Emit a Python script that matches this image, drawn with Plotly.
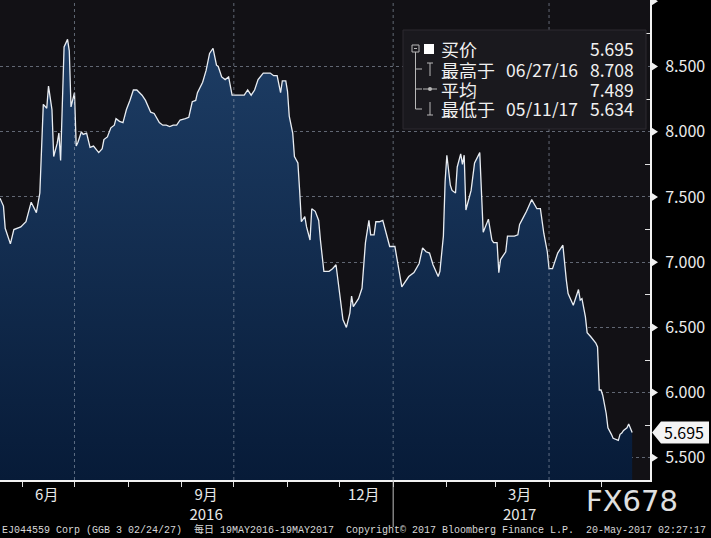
import plotly.graph_objects as go

# ---------------- data ----------------
dates = ["2016-05-19","2016-05-21","2016-05-22","2016-05-25","2016-05-27","2016-05-31","2016-06-03","2016-06-06","2016-06-09","2016-06-11",
"2016-06-13","2016-06-15","2016-06-16","2016-06-18","2016-06-19","2016-06-21","2016-06-22","2016-06-23","2016-06-25","2016-06-27",
"2016-06-28","2016-06-29","2016-07-01","2016-07-02","2016-07-03","2016-07-05","2016-07-06","2016-07-08","2016-07-10","2016-07-12",
"2016-07-15","2016-07-17","2016-07-18","2016-07-20","2016-07-22","2016-07-24","2016-07-25","2016-07-27","2016-07-29","2016-07-31",
"2016-08-02","2016-08-04","2016-08-06","2016-08-09","2016-08-11","2016-08-13","2016-08-14","2016-08-16","2016-08-19","2016-08-21",
"2016-08-23","2016-08-25","2016-08-27","2016-08-29","2016-08-31","2016-09-03","2016-09-05","2016-09-07","2016-09-09","2016-09-10",
"2016-09-13","2016-09-15","2016-09-17","2016-09-19","2016-09-21","2016-09-22","2016-09-24","2016-09-26","2016-09-28","2016-09-30",
"2016-10-02","2016-10-04","2016-10-07","2016-10-09","2016-10-11","2016-10-13","2016-10-15","2016-10-18","2016-10-22","2016-10-24",
"2016-10-26","2016-10-28","2016-10-29","2016-10-31","2016-11-01","2016-11-02","2016-11-04","2016-11-05","2016-11-07","2016-11-08",
"2016-11-09","2016-11-11","2016-11-12","2016-11-14","2016-11-15","2016-11-17","2016-11-19","2016-11-20","2016-11-22","2016-11-25",
"2016-11-27","2016-11-29","2016-12-01","2016-12-03","2016-12-05","2016-12-07","2016-12-08","2016-12-09","2016-12-12","2016-12-14",
"2016-12-16","2016-12-18","2016-12-19","2016-12-21","2016-12-22","2016-12-24","2016-12-26","2016-12-28","2016-12-30","2017-01-02",
"2017-01-04","2017-01-06","2017-01-10","2017-01-13","2017-01-16","2017-01-18","2017-01-20","2017-01-22","2017-01-24","2017-01-27",
"2017-01-28","2017-01-30","2017-01-31","2017-02-01","2017-02-03","2017-02-04","2017-02-06","2017-02-07","2017-02-09","2017-02-10",
"2017-02-11","2017-02-12","2017-02-14","2017-02-15","2017-02-17","2017-02-19","2017-02-20","2017-02-22","2017-02-24","2017-02-25",
"2017-02-27","2017-02-28","2017-03-02","2017-03-03","2017-03-04","2017-03-06","2017-03-07","2017-03-08","2017-03-10","2017-03-12",
"2017-03-14","2017-03-15","2017-03-17","2017-03-19","2017-03-22","2017-03-23","2017-03-25","2017-03-27","2017-03-29","2017-03-31",
"2017-04-01","2017-04-03","2017-04-04","2017-04-06","2017-04-07","2017-04-09","2017-04-11","2017-04-12","2017-04-15","2017-04-16",
"2017-04-18","2017-04-19","2017-04-20","2017-04-22","2017-04-23","2017-04-25","2017-04-28","2017-04-29","2017-04-30","2017-05-01",
"2017-05-02","2017-05-04","2017-05-05","2017-05-07","2017-05-08","2017-05-11","2017-05-12","2017-05-13","2017-05-14","2017-05-16",
"2017-05-17","2017-05-19"]

bid = [7.49,7.43,7.26,7.14,7.25,7.27,7.31,7.46,7.38,7.53,
8.21,8.18,8.35,8.17,7.81,7.91,7.99,7.78,8.65,8.708,
8.62,8.19,8.30,7.89,7.92,8.00,7.98,7.99,7.88,7.89,
7.84,7.87,7.94,7.96,8.03,8.05,8.10,8.08,8.07,8.17,
8.24,8.32,8.32,8.28,8.24,8.18,8.15,8.14,8.07,8.05,
8.05,8.04,8.05,8.05,8.09,8.10,8.11,8.23,8.24,8.30,
8.38,8.47,8.60,8.64,8.51,8.50,8.42,8.40,8.42,8.28,
8.28,8.28,8.28,8.32,8.28,8.32,8.40,8.45,8.45,8.43,
8.43,8.30,8.39,8.39,8.31,8.12,7.99,7.81,7.76,7.55,
7.31,7.35,7.27,7.17,7.41,7.39,7.32,7.17,6.93,6.93,
6.95,6.98,6.76,6.56,6.50,6.61,6.74,6.66,6.72,6.80,
7.15,7.32,7.21,7.21,7.31,7.31,7.32,7.22,7.12,7.12,
6.97,6.81,6.89,6.92,6.99,7.11,7.08,7.07,6.98,6.89,
6.93,7.20,7.62,7.82,7.59,7.55,7.53,7.73,7.83,7.75,
7.82,7.40,7.50,7.55,7.76,7.81,7.84,7.23,7.29,7.33,
7.17,7.15,7.15,6.92,7.02,7.06,7.08,7.20,7.20,7.20,
7.21,7.29,7.34,7.39,7.48,7.46,7.41,7.41,7.22,7.08,
6.95,6.95,6.99,7.07,7.09,7.13,6.86,6.76,6.67,6.71,
6.79,6.71,6.72,6.58,6.46,6.43,6.38,6.35,6.02,6.02,
5.98,5.84,5.73,5.68,5.65,5.634,5.68,5.69,5.71,5.73,
5.76,5.695]

if len(dates) != len(bid):
    raise SystemExit(f"length mismatch {len(dates)} vs {len(bid)}")

y_ticks = [5.5, 6.0, 6.5, 7.0, 7.5, 8.0, 8.5]
y_arrow_ticks = [5.5, 6.0, 6.5, 7.0, 7.5, 8.0, 8.5, 9.0]
y_minor = [5.75, 6.25, 6.75, 7.25, 7.75, 8.25, 8.75]
month_label_dates = ["2016-06-15", "2016-09-15", "2016-12-15", "2017-03-15"]
month_labels = ["6月", "9月<br>2016", "12月", "3月<br>2017"]
quarter_dates = ["2016-07-01", "2016-10-01", "2017-01-01", "2017-04-01"]
year_break = "2017-01-01"

legend_names = ["买价", "最高于", "平均", "最低于"]
legend_dates = ["", "06/27/16", "", "05/11/17"]
legend_values = ["5.695", "8.708", "7.489", "5.634"]
last_label = "5.695"

x_range = ["2016-05-19", "2017-05-29 07:00"]
y_range = [5.33, 9.01]

# ---------------- figure ----------------
W, H = 711, 538
ML, MR, MT, MB = 0, 61, 0, 58
PW, PH = W - ML - MR, H - MT - MB

def px(x):
    return (x - ML) / PW

def py(y):
    return 1 - (y - MT) / PH

fig = go.Figure()
fig.add_trace(go.Scatter(
    x=dates, y=bid, mode="lines",
    line=dict(color="#e9edf2", width=1.3),
    fill="tozeroy",
    fillgradient=dict(type="vertical", start=y_range[0], stop=8.8,
                      colorscale=[[0, "#071b38"], [1, "#1e3e66"]]),
    hoverinfo="skip", showlegend=False,
))

grid_col = "rgba(150,162,178,0.6)"
shapes = []
for d in quarter_dates:
    shapes.append(dict(type="line", xref="x", yref="paper", x0=d, x1=d, y0=0, y1=1,
                       line=dict(color=grid_col, width=1, dash="3px,3px"), layer="above"))
# year separator below axis
shapes.append(dict(type="line", xref="x", yref="paper", x0=year_break, x1=year_break,
                   y0=0, y1=py(527), line=dict(color="#bfbfbf", width=1)))
# triangles on right axis
for v in y_arrow_ticks:
    dy = 4.5 * (y_range[1] - y_range[0]) / PH
    shapes.append(dict(type="path", xref="paper", yref="y",
                       path=f"M {px(651)} {v-dy} L {px(658)} {v} L {px(651)} {v+dy} Z",
                       fillcolor="#f2f2f2", line=dict(width=0)))
# last price arrow tag
last_v = bid[-1]
dy = 11 * (y_range[1] - y_range[0]) / PH
shapes.append(dict(type="path", xref="paper", yref="y",
                   path=f"M {px(652)} {last_v} L {px(661)} {last_v+dy} L {px(709)} {last_v+dy} "
                        f"L {px(709)} {last_v-dy} L {px(661)} {last_v-dy} Z",
                   fillcolor="#f4f4f4", line=dict(width=0)))

# legend box
shapes.append(dict(type="rect", xref="paper", yref="paper", x0=px(403), x1=px(646),
                   y0=py(129), y1=py(30), fillcolor="#1a191e",
                   line=dict(color="#2c2b31", width=1)))
icon_col = "#b8b8b8"
shapes.append(dict(type="rect", xref="paper", yref="paper", x0=px(412), x1=px(419),
                   y0=py(52), y1=py(45), line=dict(color=icon_col, width=1)))
shapes.append(dict(type="line", xref="paper", yref="paper", x0=px(414), x1=px(417),
                   y0=py(48.5), y1=py(48.5), line=dict(color=icon_col, width=1)))
shapes.append(dict(type="rect", xref="paper", yref="paper", x0=px(424), x1=px(434),
                   y0=py(54), y1=py(44), fillcolor="#ffffff", line=dict(width=0)))
shapes.append(dict(type="line", xref="paper", yref="paper", x0=px(415.5), x1=px(415.5),
                   y0=py(52), y1=py(109), line=dict(color=icon_col, width=1)))
for yy in (69, 89, 109):
    shapes.append(dict(type="line", xref="paper", yref="paper", x0=px(415.5), x1=px(422),
                       y0=py(yy), y1=py(yy), line=dict(color=icon_col, width=1)))
shapes.append(dict(type="line", xref="paper", yref="paper", x0=px(430), x1=px(430),
                   y0=py(63), y1=py(76), line=dict(color=icon_col, width=1)))
shapes.append(dict(type="line", xref="paper", yref="paper", x0=px(427), x1=px(433),
                   y0=py(63), y1=py(63), line=dict(color=icon_col, width=1)))
shapes.append(dict(type="line", xref="paper", yref="paper", x0=px(423), x1=px(437),
                   y0=py(89), y1=py(89), line=dict(color=icon_col, width=1)))
shapes.append(dict(type="circle", xref="paper", yref="paper", x0=px(428), x1=px(432),
                   y0=py(91), y1=py(87), fillcolor=icon_col, line=dict(width=0)))
shapes.append(dict(type="line", xref="paper", yref="paper", x0=px(430), x1=px(430),
                   y0=py(102), y1=py(115), line=dict(color=icon_col, width=1)))
shapes.append(dict(type="line", xref="paper", yref="paper", x0=px(427), x1=px(433),
                   y0=py(115), y1=py(115), line=dict(color=icon_col, width=1)))

cjk = "Noto Sans CJK SC"
ann = []
row_y = [49, 69, 89, 109]
for name, dt, val, ry in zip(legend_names, legend_dates, legend_values, row_y):
    ann.append(dict(xref="paper", yref="paper", x=px(439), y=py(ry), text=name,
                    xanchor="left", yanchor="middle", showarrow=False, height=19,
                    font=dict(family=cjk, size=18, color="#f0f0f0")))
    if dt:
        ann.append(dict(xref="paper", yref="paper", x=px(504), y=py(ry), text=dt,
                        xanchor="left", yanchor="middle", showarrow=False, height=19,
                        font=dict(family=cjk, size=17.5, color="#f0f0f0")))
    ann.append(dict(xref="paper", yref="paper", x=px(636), y=py(ry), text=val,
                    xanchor="right", yanchor="middle", showarrow=False, height=19,
                    font=dict(family=cjk, size=17.5, color="#f0f0f0")))

ann.append(dict(xref="paper", yref="y", x=px(684), y=last_v, text=last_label,
                xanchor="center", yanchor="middle", showarrow=False,
                font=dict(family=cjk, size=16, color="#000000")))
ann.append(dict(xref="paper", yref="paper", x=px(632), y=py(501), text="FX678",
                xanchor="center", yanchor="middle", showarrow=False,
                font=dict(family="DejaVu Sans", size=29, color="#e0e0e0")))
ann.append(dict(xref="paper", yref="paper", x=px(0), y=py(529),
                text="EJ044559 Corp (GGB 3 02/24/27)  每日 19MAY2016-19MAY2017  Copyright© 2017 Bloomberg Finance L.P.  20-May-2017 02:27:17",
                xanchor="left", yanchor="middle", showarrow=False,
                font=dict(family="Liberation Mono, Noto Sans CJK SC", size=10, color="#d8d8d8")))

fig.update_layout(
    width=W, height=H,
    margin=dict(l=ML, r=MR, t=MT, b=MB, pad=0),
    paper_bgcolor="#000000",
    plot_bgcolor="#121115",
    showlegend=False,
    shapes=shapes,
    annotations=ann,
    xaxis=dict(
        type="date", range=x_range,
        tickvals=month_label_dates, ticktext=month_labels,
        ticks="", showgrid=False, zeroline=False,
        showline=True, linecolor="#f2f2f2", linewidth=2,
        tickfont=dict(family=cjk, size=15, color="#e8e8e8"),
        minor=dict(dtick="M1", tick0="2016-06-01", ticks="outside", ticklen=5,
                   tickcolor="#e0e0e0", tickwidth=1, showgrid=False),
    ),
    yaxis=dict(
        side="right", range=y_range,
        tickvals=y_ticks, tickformat=".3f",
        ticks="outside", ticklen=10, tickcolor="rgba(0,0,0,0)",
        showgrid=True, gridcolor=grid_col, griddash="3px,3px", gridwidth=1,
        zeroline=False,
        showline=True, linecolor="#f2f2f2", linewidth=2,
        tickfont=dict(family=cjk, size=16, color="#ececec"),
        minor=dict(tickvals=y_minor, ticks="inside", ticklen=5,
                   tickcolor="#e0e0e0", tickwidth=1, showgrid=False),
    ),
)

fig.write_html("out.html", config={"displayModeBar": False},
               post_script="document.body.style.margin='0px';document.body.style.overflow='hidden';")
